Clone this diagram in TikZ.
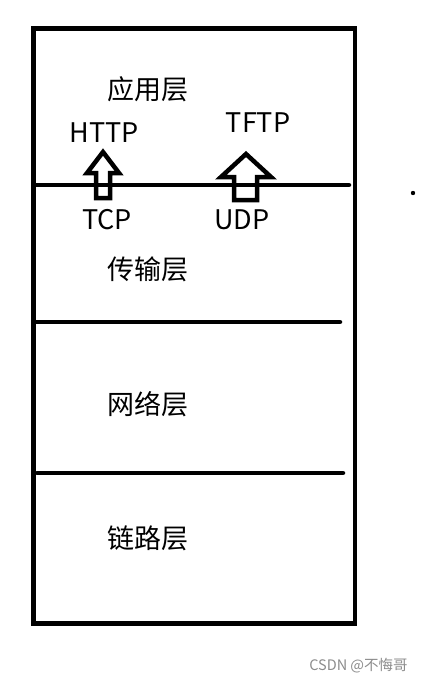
\documentclass[tikz,border=0pt]{standalone}
\usepackage{fontspec}
\setmainfont{Noto Sans CJK SC}
\usepackage{tikz}

\begin{document}
\begin{tikzpicture}[x=1pt,y=-1pt,line width=4.5pt]
    \tikzstyle{layer}=[inner sep=0pt,font=\fontsize{27}{32}\selectfont]
    \tikzstyle{proto}=[layer];
    \tikzstyle{divider}=[line cap=round];
    \tikzstyle{block arrow}=[line width=4.5pt,line join=miter];
    \tikzstyle{mark note}=[inner sep=0pt,text=black!45,font=\fontsize{14.5}{17}\selectfont]

    \useasboundingbox (0,0) rectangle (423,683);

    % Draw the stack frame
    \draw (33.5,28.5) rectangle (355,623.5);

    % Draw the layer dividers
    \draw[divider] (33.5,185) -- (349,185);
    \draw[divider] (33.5,322) -- (340,322);
    \draw[divider] (37,473) -- (343,473);

    % Name the layers
    \foreach \name / \y / \txt in {app/89/应用层,trans/269/传输层,net/404.5/网络层,link/538.5/链路层}
        \node[layer] (L-\name) at (148,\y) {\txt};

    % Protocols
    \node[proto] (http) at (104.5,133) {HTTP};
    \node[proto] (tftp) at (258,122.5) {TFTP};
    \node[proto] (tcp) at (107,220) {TCP};
    \node[proto] (udp) at (242,220) {UDP};

    % Hollow arrows from the lower protocols up
    \draw[block arrow] (103,152) -- (87,173) -- (96,173) -- (96,198)
        -- (110,198) -- (110,173) -- (119,173) -- cycle;
    \draw[block arrow] (246,154) -- (221,177) -- (234,177) -- (234,200)
        -- (257,200) -- (257,177) -- (271,177) -- cycle;

    % stray dot and watermark
    \fill (413,193) circle (2.2pt);
    \node[mark note] (wm) at (358.5,666) {CSDN @不悔哥};
\end{tikzpicture}
\end{document}
